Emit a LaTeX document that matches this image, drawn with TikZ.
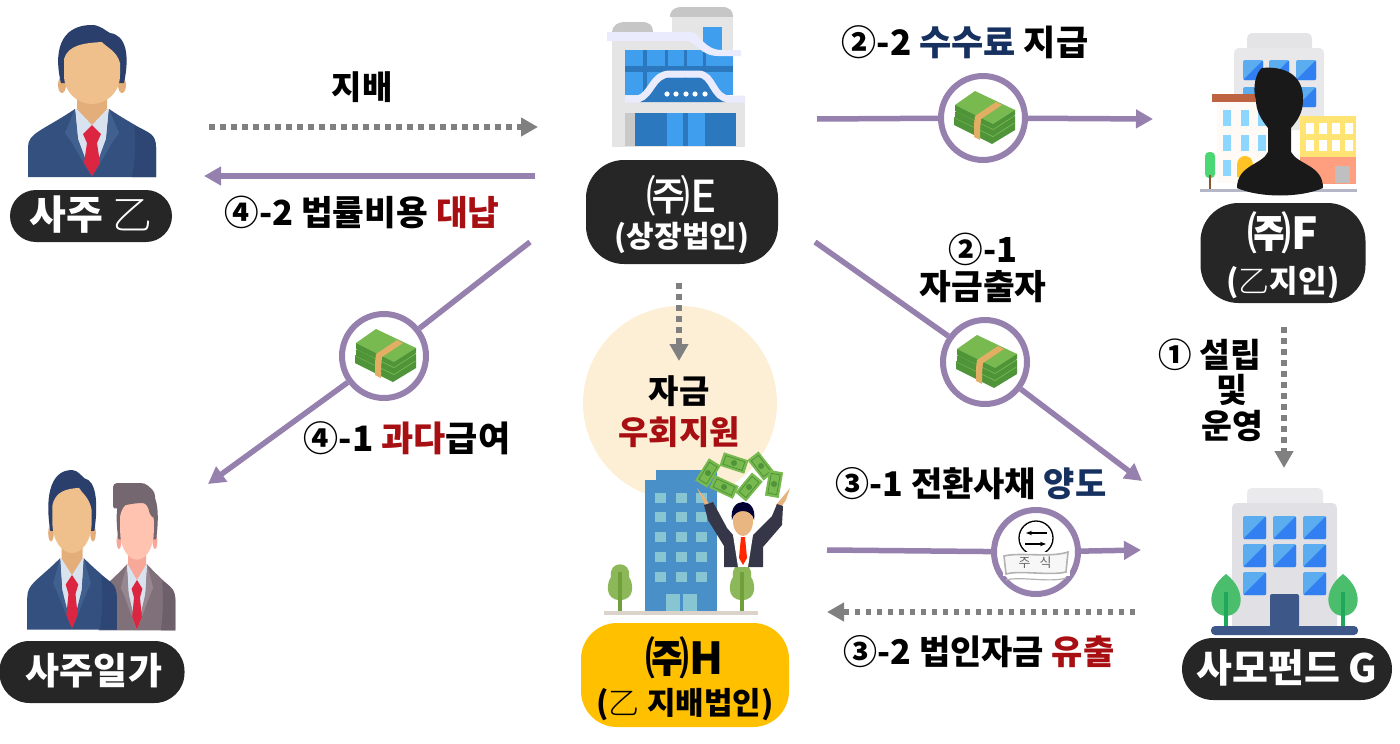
\documentclass[tikz,border=0pt]{standalone}
\usepackage{fontspec}
\setmainfont{Noto Sans CJK KR}
\newfontfamily\midfont{Noto Sans CJK KR Medium}
\newfontfamily\thinfont{Noto Sans CJK KR Light}
\usetikzlibrary{shapes.geometric, arrows.meta, positioning}
\definecolor{purpleline}{HTML}{9580AE}
\definecolor{grayline}{HTML}{808080}
\definecolor{pillgray}{HTML}{262626}
\definecolor{pillgold}{HTML}{FFC000}
\definecolor{redtext}{HTML}{A80F12}
\definecolor{navytext}{HTML}{16305F}
\definecolor{peach}{HTML}{FDEFD5}
\definecolor{skyblue}{HTML}{3F9FEE}
\definecolor{deepblue}{HTML}{2B78BE}
\definecolor{jacketcol}{HTML}{34507F}
\definecolor{jacketdark}{HTML}{2D4674}
\definecolor{lapelcol}{HTML}{40608F}
\definecolor{haircol}{HTML}{2A3F6B}
\definecolor{facecol}{HTML}{F0C08C}
\definecolor{neckcol}{HTML}{E3AE7A}
\definecolor{shirtcol}{HTML}{D9E2EF}
\definecolor{tiecol}{HTML}{DC2540}
\definecolor{billtop}{HTML}{78B950}
\definecolor{billside}{HTML}{4F9438}
\definecolor{bandcol}{HTML}{E2AE63}
\definecolor{leafH}{HTML}{8DB859}
\definecolor{trunkH}{HTML}{6FA03A}
\definecolor{towerH}{HTML}{4A90C8}
\definecolor{paneH}{HTML}{87C5D3}
\definecolor{leafG}{HTML}{4BBE6E}
\definecolor{trunkG}{HTML}{1FA85A}
\definecolor{baseG}{HTML}{3D5888}
\newcommand{\hantxt}[1]{\fontsize{#1}{#1}\selectfont\bfseries}
\newcommand{\midtxt}[1]{\fontsize{#1}{#1}\selectfont\midfont}
\newcommand{\thinmark}{{\thinfont\mdseries 乙}}
\tikzset{
	personicon/.pic={
		\fill [jacketcol] (-64,152) -- (-64,122) .. controls (-64,108) and (-50,106) .. (-17,84) -- (17,84) .. controls (50,106) and (64,108) .. (64,122) -- (64,152) -- cycle;
		\fill [jacketdark] (40,152) .. controls (44,130) and (44,115) .. (42,101) -- (48,103) .. controls (58,108) and (64,110) .. (64,122) -- (64,152) -- cycle;
		\fill [shirtcol] (-17,84) -- (17,84) -- (14,118) -- (0,150) -- (-14,118) -- cycle;
		\fill [lapelcol] (-17,84) -- (-27,108) -- (-20,118) -- (0,152) -- (-14,114) -- cycle;
		\fill [lapelcol] (17,84) -- (27,108) -- (20,118) -- (0,152) -- (14,114) -- cycle;
		\fill [neckcol] (-15,60) -- (15,60) -- (15,84) -- (0,100) -- (-15,84) -- cycle;
		\fill [tiecol] (0,100) -- (9,109) -- (5,118) -- (8,138) -- (0,151) -- (-8,138) -- (-5,118) -- (-9,109) -- cycle;
		\fill [neckcol] (-30,60) ellipse (4 and 8);
		\fill [neckcol] (30,60) ellipse (4 and 8);
		\fill [haircol] (-31,58) .. controls (-38,30) and (-34,0) .. (0,0) .. controls (8,0) and (14,6) .. (18,8) .. controls (34,10) and (38,30) .. (32,58) -- cycle;
		\fill [facecol] (-28,34) .. controls (-24,20) and (-8,18) .. (10,17) .. controls (14,22) and (25,26) .. (28,38) -- (28,50) .. controls (28,68) and (14,79) .. (0,79) .. controls (-14,79) and (-28,68) .. (-28,50) -- cycle;
	},
	moneyicon/.pic={
		\fill [billside] (-29,-1) -- (-29,7) -- (9,26) -- (32,12) -- (32,4) -- cycle;
		\fill [billtop] (-29,0) -- (-8,-14) -- (32,5) -- (10,19) -- cycle;
		\fill [billside] (-28,-6) -- (-28,0) -- (10,18) -- (32,4) -- (32,-2) -- cycle;
		\fill [billtop] (-28,-7) -- (-8,-21) -- (32,-2) -- (10,12) -- cycle;
		\fill [billside] (-28,-13) -- (-28,-7) -- (10,11) -- (32,-3) -- (32,-8) -- cycle;
		\fill [billtop] (-28,-13) -- (-8,-27) -- (32,-8) -- (10,6) -- cycle;
		\fill [bandcol] (-8,-2) -- (13,-16) -- (19,-13) -- (-2,1) -- (-3,12) -- (-3,22) -- (-9,19) -- (-9,6) -- cycle;
	},
	billicon/.pic={
		\fill [billtop] (-13,-7) rectangle (13,7);
		\fill [billside] (0,0) ellipse (3 and 3);
		\draw [billside, line width=.8pt] (-10,-4.5) rectangle (10,4.5);
	},
	treeicon/.pic={
		\fill [leafH] (0,38) .. controls (-16,38) and (-13,20) .. (-9,15) .. controls (-12,-2) and (12,-2) .. (9,15) .. controls (13,20) and (16,38) .. (0,38) -- cycle;
		\fill [trunkH] (-2,10) rectangle (2,49);
	},
	panebox/.pic={
		\fill [skyblue!85!white, rounded corners=2pt] (0,0) rectangle (23,23);
		\fill [skyblue!80!blue, rounded corners=1pt] (23,0) -- (23,23) -- (0,23) -- cycle;
	}
}
\begin{document}
\begin{tikzpicture}[x=1pt, y=-1pt]
	\tikzstyle{Pill} = [rectangle, inner sep=0pt, fill=pillgray]
	\tikzstyle{Label} = [align=center, inner sep=0pt, text=black]
	\tikzstyle{PillText} = [align=center, inner sep=0pt, text=white]
	\tikzstyle{Ring} = [circle, draw=purpleline, line width=6pt, fill=white, minimum size=84pt, inner sep=0pt]
	\tikzstyle{flow} = [line width=5.5pt, draw=purpleline, -{Triangle[length=17pt,width=18pt]}]
	\tikzstyle{plainflow} = [line width=5.5pt, draw=purpleline]
	\tikzstyle{dotflow} = [line width=5.5pt, draw=grayline, dash pattern=on 5.5pt off 5.5pt, -{Triangle[length=17pt,width=18pt,fill=grayline]}]

	\useasboundingbox (0,0) rectangle (1400,744);

	\fill [peach] (680,403) circle (97);

	\pic at (92,25) {personicon};
	\node (owner) [Pill, minimum width=162pt, minimum height=52pt, rounded corners=26pt] at (91,216) {};
	\node (ownerTxt) [PillText] at (91,215) {\hantxt{40}사주 \thinmark};

	\begin{scope}
		\definecolor{jacketcol}{HTML}{7F7079}
		\definecolor{jacketdark}{HTML}{6E606A}
		\definecolor{lapelcol}{HTML}{95868F}
		\definecolor{haircol}{HTML}{75676F}
		\definecolor{facecol}{HTML}{FFC3B0}
		\definecolor{neckcol}{HTML}{F8A898}
		\pic [xscale=.6, yscale=.97] at (137,483) {personicon};
		\fill [haircol, rounded corners=4pt] (113,510) -- (113,483) -- (145,483) -- (155,492) -- (155,518) -- (150,516) .. controls (148,505) and (145,503) .. (138,503) -- (125,505) -- cycle;
	\end{scope}
	\pic [xscale=.7, yscale=1.05] at (72,470) {personicon};
	\node (family) [Pill, minimum width=185pt, minimum height=62pt, rounded corners=30pt] at (92,672) {};
	\node (familyTxt) [PillText] at (94,671) {\hantxt{37}사주일가};

	\fill [gray!45] (670,17) .. controls (670,9) and (676,7) .. (682,7) -- (722,7) .. controls (730,7) and (733,11) .. (733,17) -- cycle;
	\fill [gray!20] (672,17) rectangle (733,95);
	\fill [skyblue] (703,27) rectangle (722,50);
	\fill [gray!45] (612,32) .. controls (612,26) and (618,22) .. (624,22) -- (642,22) .. controls (650,22) and (653,26) .. (653,32) -- cycle;
	\fill [gray!20] (612,36) rectangle (690,147);
	\fill [gray!20] (690,96) rectangle (745,147);
	\fill [skyblue] (625,50) rectangle (733,95);
	\fill [deepblue] (625,66) rectangle (733,72);
	\fill [deepblue] (643,50) rectangle (647,95);
	\fill [deepblue] (665,50) rectangle (668,95);
	\fill [deepblue] (684,50) rectangle (687,95);
	\fill [deepblue] (703,50) rectangle (706,95);
	\fill [black!3!blue!8!white] (607,32) -- (690,32) .. controls (700,32) and (703,50) .. (722,50) -- (741,50) -- (741,56) -- (718,56) .. controls (700,56) and (696,41) .. (685,41) -- (607,41) -- cycle;
	\fill [deepblue] (640,102) .. controls (652,94) and (655,78) .. (668,78) -- (700,78) .. controls (712,78) and (714,94) .. (726,102) -- cycle;
	\draw [line width=7pt, black!3!blue!8!white] (625,99) -- (638,99) .. controls (652,95) and (652,74) .. (670,74) -- (698,74) .. controls (714,74) and (712,99) .. (730,99) -- (745,99);
	\foreach \dotx in {667,676,686,695,705} \fill [white] (\dotx,94) circle (2.6);
	\fill [gray!42] (625,113) rectangle (736,146);
	\fill [deepblue] (635,113) rectangle (736,146);
	\fill [skyblue] (667,113) rectangle (683,146);
	\fill [skyblue] (688,113) rectangle (705,146);
	\node (corpE) [Pill, minimum width=192pt, minimum height=104pt, rounded corners=38pt] at (682,212) {};
	\node (corpEa) [PillText] at (682,196) {\midtxt{44}㈜E};
	\node (corpEb) [PillText] at (682,238) {\hantxt{30}(상장법인)};

	\fill [blue!5!gray!20] (1247,40) .. controls (1247,35) and (1249,33) .. (1253,33) -- (1306,33) .. controls (1310,33) and (1312,35) .. (1312,40) -- (1312,48) -- (1247,48) -- cycle;
	\fill [blue!8!gray!17] (1234,54) .. controls (1234,50) and (1236,48) .. (1240,48) -- (1318,48) .. controls (1322,48) and (1324,50) .. (1324,54) -- (1324,130) -- (1234,130) -- cycle;
	\foreach \panex in {1243,1269,1296} \foreach \paney in {60,87} \pic [scale=.87] at (\panex,\paney) {panebox};
	\fill [white!96!orange] (1217,102) rectangle (1268,183);
	\fill [brown!70!red!75!gray] (1212,94) rectangle (1262,102);
	\foreach \panex in {1223,1241,1258} \foreach \paney in {110,135} \fill [blue!35!cyan!45!white] (\panex,\paney) rectangle +(8,16);
	\fill [blue!35!cyan!45!white] (1223,160) rectangle +(8,16);
	\fill [orange!55!yellow!85!white] (1237,177) -- (1237,165) .. controls (1237,153) and (1253,153) .. (1253,165) -- (1253,177) -- cycle;
	\fill [orange!40!yellow!55!white] (1300,116) rectangle (1356,157);
	\fill [red!50!orange!50!white] (1300,157) rectangle (1356,184);
	\foreach \panex in {1306,1319,1332,1345} \foreach \paney in {123,140} \fill [white] (\panex,\paney) rectangle +(8,11);
	\fill [gray!50!white] (1335,166) rectangle (1350,183);
	\fill [green!55!teal!70!white, rounded corners=4pt] (1205,152) rectangle (1215,178);
	\fill [brown!70!black] (1209,175) rectangle (1211,190);
	\fill [blue!15!gray!50] (1200,189) rectangle (1357,192);
	\fill [black!90] (1237,188) .. controls (1237,165) and (1262,165) .. (1268,152) -- (1268,128) .. controls (1260,118) and (1256,110) .. (1256,100) .. controls (1252,88) and (1256,72) .. (1262,68) .. controls (1280,66) and (1304,72) .. (1303,100) .. controls (1303,112) and (1298,120) .. (1291,128) -- (1291,152) .. controls (1298,165) and (1323,165) .. (1323,188) .. controls (1300,198) and (1260,198) .. (1237,188) -- cycle;
	\node (corpF) [Pill, minimum width=165pt, minimum height=100pt, rounded corners=38pt] at (1283,253) {};
	\node (corpFa) [PillText] at (1283,233) {\hantxt{44}㈜F};
	\node (corpFb) [PillText] at (1283,283) {\hantxt{31}(\thinmark 지인)};

	\fill [blue!8!gray!15] (1247,494) .. controls (1247,490) and (1249,488) .. (1253,488) -- (1318,488) .. controls (1321,488) and (1323,490) .. (1323,494) -- (1323,503) -- (1247,503) -- cycle;
	\fill [blue!8!gray!22] (1232,509) .. controls (1232,505) and (1234,503) .. (1238,503) -- (1331,503) .. controls (1335,503) and (1337,505) .. (1337,509) -- (1337,627) -- (1232,627) -- cycle;
	\foreach \panex in {1243,1273,1303} \foreach \paney in {516,544} \pic at (\panex,\paney) {panebox};
	\pic at (1243,572) {panebox};
	\pic at (1303,572) {panebox};
	\fill [baseG, rounded corners=2pt] (1270,627) -- (1270,594) -- (1299,594) -- (1299,627) -- cycle;
	\fill [leafG] (1226,574) .. controls (1205,590) and (1208,615) .. (1226,616) .. controls (1244,615) and (1247,590) .. (1226,574) -- cycle;
	\fill [leafG] (1343,574) .. controls (1322,590) and (1325,615) .. (1343,616) .. controls (1361,615) and (1364,590) .. (1343,574) -- cycle;
	\fill [trunkG] (1224,592) rectangle (1228,627);
	\fill [trunkG] (1341,592) rectangle (1345,627);
	\fill [baseG, rounded corners=4pt] (1211,626) rectangle (1358,635);
	\node (fundG) [Pill, minimum width=210pt, minimum height=62pt, rounded corners=31pt] at (1287,669) {};
	\node (fundGTxt) [PillText] at (1287,668) {\hantxt{39}사모펀드 G};

	\fill [towerH] (656,470) rectangle (717,482);
	\fill [towerH] (645,480) rectangle (717,611);
	\foreach \panex in {655,676,696} \foreach \paney in {493,512,532,552,572} \fill [paneH] (\panex,\paney) rectangle +(11,10);
	\fill [paneH] (666,594) rectangle (680,611);
	\fill [paneH] (683,594) rectangle (697,611);
	\pic at (620,562) {treeicon};
	\pic at (742,562) {treeicon};
	\fill [orange!20!gray!35] (604,611) rectangle (758,615);
	\fill [facecol!80!brown] (697,488) -- (705,498) -- (710,505) -- (706,507) -- cycle;
	\fill [facecol!80!brown] (790,488) -- (786,500) -- (781,507) -- (776,505) -- cycle;
	\fill [blue!15!gray!50!black] (724,567) -- (724,546) -- (708,520) -- (704,505) -- (713,502) -- (727,528) -- (733,535) -- (753,535) -- (772,516) -- (777,504) -- (783,506) -- (782,525) -- (763,547) -- (763,567) -- cycle;
	\fill [white] (733,535) -- (753,535) -- (748,567) -- (738,567) -- cycle;
	\fill [red!70!orange] (741,537) -- (745,537) -- (747,558) -- (743,565) -- (739,558) -- cycle;
	\fill [facecol!85!brown] (743,521) ellipse (10 and 15);
	\fill [black!80!blue] (732,520) .. controls (728,496) and (758,496) .. (754,520) .. controls (752,508) and (734,508) .. (732,520) -- cycle;
	\pic [rotate=58] at (708,473) {billicon};
	\pic [rotate=-18] at (734,463) {billicon};
	\pic [rotate=-52] at (761,466) {billicon};
	\pic [rotate=-25] at (724,487) {billicon};
	\pic [rotate=50] at (749,487) {billicon};
	\pic [rotate=80] at (774,484) {billicon};
	\node (corpH) [Pill, fill=pillgold, minimum width=208pt, minimum height=104pt, rounded corners=36pt] at (685,675) {};
	\node (corpHa) [Label] at (685,658) {\hantxt{44}㈜H};
	\node (corpHb) [Label] at (685,705) {\hantxt{31}(\thinmark\ 지배법인)};

	\coordinate (ctlA) at (209,127);
	\coordinate (ctlB) at (538,127);
	\coordinate (lendA) at (535,176);
	\coordinate (lendB) at (204,176);
	\coordinate (payA) at (530,242);
	\coordinate (payB) at (208,484);
	\coordinate (feeA) at (817,119);
	\coordinate (feeB) at (1153,119);
	\coordinate (capA) at (815,242);
	\coordinate (capB) at (1142,481);
	\coordinate (setA) at (1284,327);
	\coordinate (setB) at (1284,468);
	\coordinate (cbA) at (827,550);
	\coordinate (cbB) at (1141,550);
	\coordinate (outA) at (1135,612);
	\coordinate (outB) at (827,612);
	\coordinate (helpA) at (679,283);
	\coordinate (helpB) at (679,361);

	\draw [dotflow] (ctlA) -- (ctlB);
	\draw [flow] (lendA) -- (lendB);
	\draw [dotflow] (setA) -- (setB);
	\draw [dotflow] (outA) -- (outB);
	\draw [dotflow] (helpA) -- (helpB);

	\node (ringPay) [Ring] at (384,356) {};
	\node (ringFee) [Ring] at (983,118) {};
	\node (ringCap) [Ring] at (985,362) {};
	\node (ringCb) [Ring] at (1036,552) {};
	\draw [plainflow] (payA) -- (ringPay);
	\draw [flow] (ringPay) -- (payB);
	\draw [plainflow] (feeA) -- (ringFee);
	\draw [flow] (ringFee) -- (feeB);
	\draw [plainflow] (capA) -- (ringCap);
	\draw [flow] (ringCap) -- (capB);
	\draw [plainflow] (cbA) -- (ringCb);
	\draw [flow] (ringCb) -- (cbB);
	\pic at (384,356) {moneyicon};
	\pic at (983,118) {moneyicon};
	\pic at (985,362) {moneyicon};

	\draw [black, line width=1.3pt, fill=white] (1036,538) circle (17);
	\draw [black, line width=1.2pt, -{Stealth[length=6pt]}] (1047,533) -- (1026,533);
	\draw [black, line width=1.2pt, -{Stealth[length=6pt]}] (1025,544) -- (1046,544);
	\fill [white] (1003,552) rectangle (1070,576);
	\draw [gray!60, line width=1.6pt, fill=gray!6] (1004,556) .. controls (1020,552) and (1050,558) .. (1068,552) -- (1066,572) .. controls (1050,576) and (1020,570) .. (1006,574) -- cycle;
	\draw [gray!60, line width=1.2pt] (1006,580) .. controls (1020,576) and (1050,583) .. (1066,578);
	\node (stockTxt) [Label, text=gray!80!black] at (1035,563) {\fontsize{13}{13}\selectfont 주\hspace{9pt}식};

	\node (ctlTxt) [Label] at (362,87) {\hantxt{33}지배};
	\node (lendTxt) [Label] at (362,212) {\hantxt{34.5}④-2 법률비용 \textcolor{redtext}{대납}};
	\node (payTxt) [Label] at (407,438) {\hantxt{35}④-1 \textcolor{redtext}{과다}급여};
	\node (feeTxt) [Label] at (965,42) {\hantxt{35}②-2 \textcolor{navytext}{수수료} 지급};
	\node (capTxt) [Label] at (983,268) {\hantxt{34.5}②-1\\[3pt]\hantxt{34.5}자금출자};
	\node (setTxt) [Label] at (1210,390) {\hantxt{33.5}① 설립\\[3pt]\hspace*{44pt}\hantxt{33.5}및\\[3pt]\hspace*{44pt}\hantxt{33.5}운영};
	\node (cbTxt) [Label] at (971,484) {\hantxt{34}③-1 전환사채 \textcolor{navytext}{양도}};
	\node (outTxt) [Label] at (979,652) {\hantxt{34}③-2 법인자금 \textcolor{redtext}{유출}};
	\node (helpTxt) [Label] at (679,412) {\hantxt{33}자금\\[9pt]\hantxt{33}\textcolor{redtext}{우회지원}};
\end{tikzpicture}
\end{document}
